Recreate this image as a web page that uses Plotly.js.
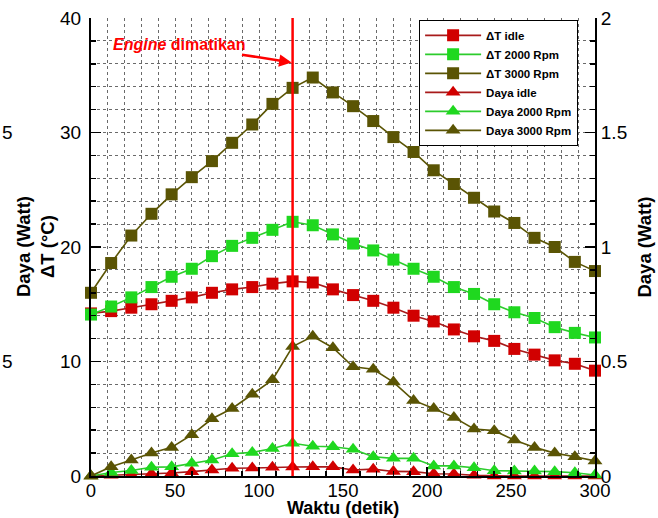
<!DOCTYPE html>
<html>
<head>
<meta charset="utf-8">
<script src="https://cdn.plot.ly/plotly-3.0.1.min.js"></script>
<style>html,body{margin:0;padding:0;background:#fff}#chart{width:658px;height:518px}</style>
</head>
<body>
<div id="chart"></div>
<script>
// time (s)
var waktu = [0,12,24,36,48,60,72,84,96,108,120,132,144,156,168,180,192,204,216,228,240,252,264,276,288,300];
// ΔT (°C)
var dtIdle = [14.2,14.4,14.7,15.0,15.3,15.6,16.0,16.3,16.5,16.8,17.0,16.9,16.3,15.8,15.3,14.7,14.0,13.5,12.8,12.2,11.8,11.1,10.6,10.1,9.8,9.2];
var dt2000 = [14.1,14.8,15.6,16.5,17.4,18.1,19.2,20.1,20.8,21.5,22.2,21.9,21.1,20.3,19.7,18.9,18.1,17.4,16.5,15.9,15.0,14.3,13.8,13.0,12.5,12.1];
var dt3000 = [16.0,18.6,21.0,22.9,24.6,26.1,27.5,29.1,30.7,32.5,33.9,34.8,33.5,32.3,31.0,29.6,28.3,26.7,25.5,24.3,23.1,22.1,20.8,20.0,18.7,17.9];
// Daya (Watt)
var dayaIdle = [0.0,0.003,0.006,0.01,0.013,0.019,0.026,0.034,0.035,0.038,0.039,0.04,0.04,0.026,0.03,0.02,0.019,0.01,0.009,0.003,0.0,0.0,0.0,0.0,0.0,0.0];
var daya2000 = [0.0,0.015,0.024,0.038,0.04,0.056,0.07,0.097,0.103,0.12,0.143,0.13,0.128,0.117,0.084,0.077,0.077,0.044,0.044,0.036,0.023,0.022,0.022,0.019,0.014,0.004];
var daya3000 = [0.0,0.04,0.07,0.10,0.125,0.18,0.25,0.295,0.357,0.42,0.565,0.61,0.56,0.477,0.466,0.41,0.33,0.295,0.256,0.205,0.198,0.157,0.125,0.10,0.084,0.066];
var seriesNames = ["ΔT idle","ΔT 2000 Rpm","ΔT 3000 Rpm","Daya idle","Daya 2000 Rpm","Daya 3000 Rpm"];
var engineOffTime = 120;

var cRed = "#d10000", cRedLine = "#a81a1a";
var cGreen = "#1fd81f", cGreenLine = "#2ccc2c";
var cOlive = "#5a5404", cOliveLine = "#5a5404";

function tr(y, name, mcol, lcol, sym, size, axis) {
  return {
    x: waktu, y: y, name: name, type: "scatter", mode: "lines+markers",
    yaxis: axis, cliponaxis: false,
    line: {color: lcol, width: 1.6},
    marker: {color: mcol, symbol: sym, size: size}
  };
}

var data = [
  tr(dtIdle, seriesNames[0], cRed, cRedLine, "square", 12, "y"),
  tr(dt2000, seriesNames[1], cGreen, cGreenLine, "square", 12, "y"),
  tr(dt3000, seriesNames[2], cOlive, cOliveLine, "square", 12, "y"),
  tr(dayaIdle, seriesNames[3], cRed, cRedLine, "triangle-up", 13, "y2"),
  tr(daya2000, seriesNames[4], cGreen, cGreenLine, "triangle-up", 13, "y2"),
  tr(daya3000, seriesNames[5], cOlive, cOliveLine, "triangle-up", 13, "y2")
];

var FAM = "Liberation Sans, Arial, sans-serif";
var tickFont = {family: FAM, size: 19, color: "#000"};
var xTickFont = {family: FAM, size: 18.5, color: "#000"};
var titleFont = {family: FAM, size: 18.5, color: "#000", weight: "bold"};
var gridCol = "#6a6a6a";

var layout = {
  width: 658, height: 518,
  margin: {l: 91, r: 63, t: 18, b: 42, pad: 0},
  paper_bgcolor: "#fff", plot_bgcolor: "#fff",
  showlegend: true,
  legend: {
    x: 0.651, y: 0.996, xanchor: "left", yanchor: "top",
    bgcolor: "#fff", bordercolor: "#000", borderwidth: 1,
    font: {family: FAM, size: 11.5, color: "#000", weight: "bold"},
    itemwidth: 56, tracegroupgap: 0
  },
  xaxis: {
    range: [0, 300], dtick: 50, tick0: 0,
    showline: true, linecolor: "#000", linewidth: 2, mirror: false,
    ticks: "inside", ticklen: 9, tickwidth: 1.5, tickcolor: "#000",
    tickfont: xTickFont, ticklabelstandoff: -3,
    showgrid: true, gridcolor: gridCol, griddash: "dot", gridwidth: 1,
    zeroline: false,
    minor: {dtick: 10, ticks: "inside", ticklen: 5, tickcolor: "#000", showgrid: true, gridcolor: gridCol, griddash: "dot", gridwidth: 1}
  },
  yaxis: {
    range: [0, 40], dtick: 10, tick0: 0,
    showline: true, linecolor: "#000", linewidth: 2, mirror: false,
    ticks: "inside", ticklen: 10, tickwidth: 1.5, tickcolor: "#000",
    tickfont: tickFont, ticklabelstandoff: 4,
    showgrid: true, gridcolor: gridCol, griddash: "dot", gridwidth: 1,
    zeroline: false,
    minor: {dtick: 2, ticks: "inside", ticklen: 5, tickcolor: "#000", showgrid: true, gridcolor: gridCol, griddash: "dot", gridwidth: 1}
  },
  yaxis2: {
    overlaying: "y", side: "right",
    range: [0, 2], dtick: 0.5, tick0: 0,
    showline: true, linecolor: "#000", linewidth: 2,
    ticks: "inside", ticklen: 10, tickwidth: 1.5, tickcolor: "#000",
    tickfont: tickFont,
    showgrid: false, zeroline: false,
    minor: {dtick: 0.1, ticks: "inside", ticklen: 5, tickcolor: "#000", showgrid: false},
    title: {text: "Daya (Watt)", font: titleFont, standoff: 12}
  },
  shapes: [{
    type: "line", xref: "x", yref: "paper", x0: engineOffTime, x1: engineOffTime, y0: 0, y1: 1,
    line: {color: "#ff0000", width: 2.5}, layer: "above"
  }],
  annotations: [
    {
      xref: "x", yref: "y", x: engineOffTime, y: 36.1,
      text: "<b><i>Engine</i> dimatikan</b>",
      font: {family: FAM, size: 16, color: "#ff0000"},
      showarrow: true, arrowcolor: "#ff0000", arrowwidth: 2.5, arrowhead: 2, arrowsize: 1,
      ax: -114, ay: -18, standoff: 1
    },
    {
      xref: "paper", yref: "paper", x: 0.5, y: -0.0699, xanchor: "center", yanchor: "middle",
      text: "<b>Waktu (detik)</b>", showarrow: false,
      font: {family: FAM, size: 18, color: "#000"}
    },
    {
      xref: "paper", yref: "paper", x: -0.111, y: 0.5, xanchor: "center", yanchor: "middle",
      text: "<b>Daya (Watt)<br>ΔT (°C)</b>", textangle: -90, showarrow: false,
      font: {family: FAM, size: 18.5, color: "#000"}
    },
    {
      xref: "paper", yref: "y", x: -0.1806, y: 30, xanchor: "left", yanchor: "middle",
      text: "5", showarrow: false, font: tickFont
    },
    {
      xref: "paper", yref: "y", x: -0.1806, y: 10, xanchor: "left", yanchor: "middle",
      text: "5", showarrow: false, font: tickFont
    }
  ]
};

Plotly.newPlot("chart", data, layout, {displayModeBar: false, staticPlot: true});
</script>
</body>
</html>
